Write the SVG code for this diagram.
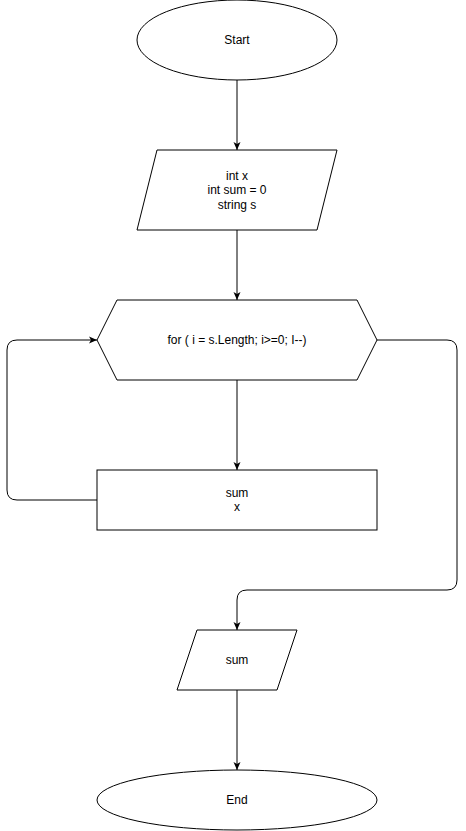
<svg xmlns="http://www.w3.org/2000/svg" width="466" height="831" viewBox="0 0 466 831">
<style>
.s{fill:#fff;stroke:#000;stroke-width:1}
.c{fill:none;stroke:#000;stroke-width:1}
text{font-family:"Liberation Sans",Arial,sans-serif;font-size:12px;fill:#000;text-anchor:middle;dominant-baseline:central}
</style>
<defs>
<marker id="a" viewBox="0 0 8 8" refX="8" refY="4" markerWidth="8" markerHeight="8" markerUnits="userSpaceOnUse" orient="auto">
<path d="M0,0.5 L8,4 L0,7.5 L2,4 Z" fill="#000"/>
</marker>
</defs>
<g id="connectors">
<path class="c" d="M237,80 L237,150" marker-end="url(#a)"/>
<path class="c" d="M237,230 L237,300" marker-end="url(#a)"/>
<path class="c" d="M237,380 L237,470" marker-end="url(#a)"/>
<path class="c" d="M97,500 L17,500 Q7,500 7,490 L7,350 Q7,340 17,340 L97,340" marker-end="url(#a)"/>
<path class="c" d="M377,340 L447,340 Q457,340 457,350 L457,580 Q457,590 447,590 L247,590 Q237,590 237,600 L237,630" marker-end="url(#a)"/>
<path class="c" d="M237,690 L237,770" marker-end="url(#a)"/>
</g>
<g id="start">
<ellipse class="s" cx="237" cy="40" rx="100" ry="40"/>
<text x="237" y="40">Start</text>
</g>
<g id="input">
<polygon class="s" points="157,150 337,150 317,230 137,230"/>
<text x="237" y="176">int x</text>
<text x="237" y="190">int sum = 0</text>
<text x="237" y="205">string s</text>
</g>
<g id="loop">
<polygon class="s" points="117,300 357,300 377,340 357,380 117,380 97,340"/>
<text x="237" y="340">for ( i = s.Length; i&gt;=0; I--)</text>
</g>
<g id="body">
<rect class="s" x="97" y="470" width="280" height="60"/>
<text x="237" y="493">sum</text>
<text x="237" y="507">x</text>
</g>
<g id="output">
<polygon class="s" points="197,630 297,630 277,690 177,690"/>
<text x="237" y="660">sum</text>
</g>
<g id="end">
<ellipse class="s" cx="237" cy="800" rx="140" ry="30"/>
<text x="237" y="800">End</text>
</g>
</svg>
